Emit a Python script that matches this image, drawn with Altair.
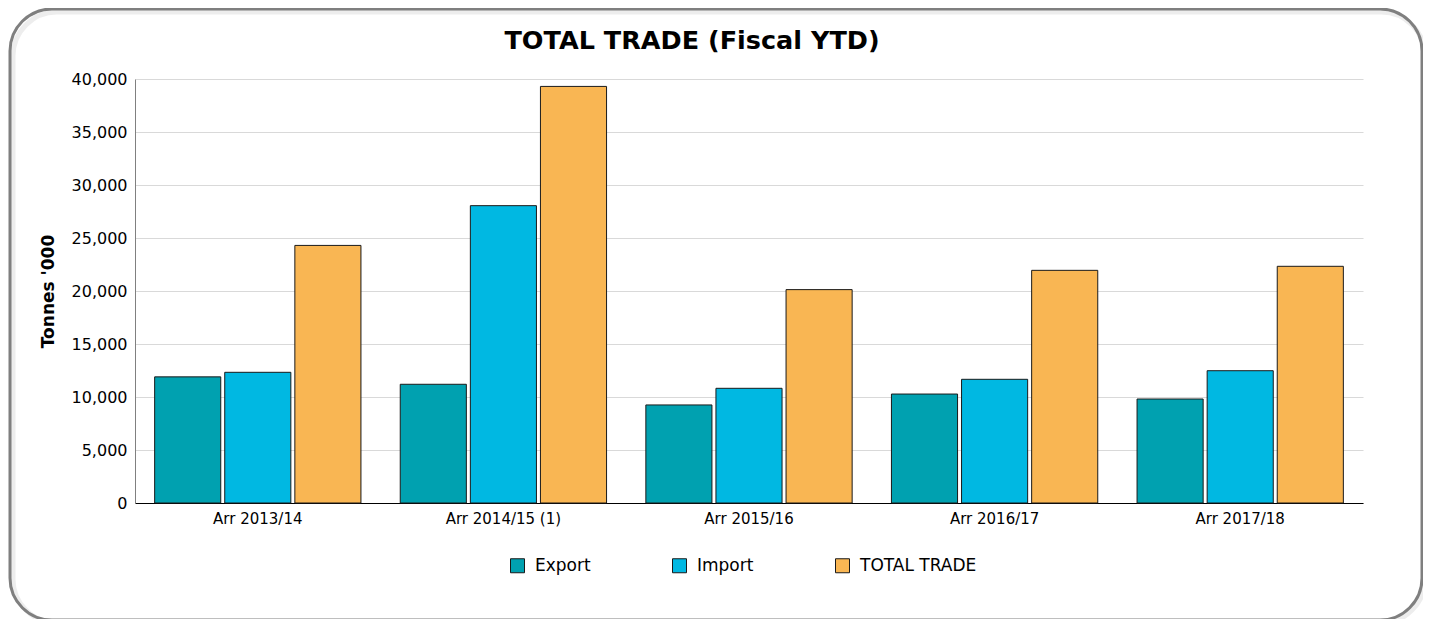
import altair as alt
import pandas as pd

years = ["Arr 2013/14", "Arr 2014/15 (1)", "Arr 2015/16", "Arr 2016/17", "Arr 2017/18"]
series = ["Export", "Import", "TOTAL TRADE"]
export_vals = [11900, 11200, 9250, 10280, 9810]
import_vals = [12330, 28050, 10820, 11670, 12480]
total_vals = [24300, 39300, 20130, 21950, 22330]
colors = ["#00A1B0", "#00B8E2", "#F9B653"]

rows = []
for i, y in enumerate(years):
    for s, vals in zip(series, [export_vals, import_vals, total_vals]):
        rows.append({"year": y, "series": s, "value": vals[i]})
df = pd.DataFrame(rows)

FONT = "DejaVu Sans"
W, H = 1228, 424

border = alt.Chart(pd.DataFrame({"a": [0]})).mark_rect(
    fill=None, stroke="#7f7f7f", strokeWidth=3, cornerRadius=42
).encode(
    x=alt.value(-125), x2=alt.value(1287), y=alt.value(-70), y2=alt.value(541)
)
shadow = alt.Chart(pd.DataFrame({"a": [0]})).mark_rect(
    fill=None, stroke="#000000", strokeOpacity=0.07, strokeWidth=5, cornerRadius=44
).encode(
    x=alt.value(-122), x2=alt.value(1290), y=alt.value(-67), y2=alt.value(544)
)

bars = alt.Chart(df).mark_bar(stroke="#1a1a1a", strokeWidth=1).encode(
    x=alt.X("year:N", sort=years, title=None,
            scale=alt.Scale(paddingInner=0.16, paddingOuter=0.08),
            axis=alt.Axis(labelAngle=0, ticks=False, domainColor="#000000", labelPadding=8,
                          labelFontSize=15, labelFont=FONT, labelColor="#000000", grid=False)),
    xOffset=alt.XOffset("series:N", sort=series,
                        scale=alt.Scale(paddingInner=0.057, paddingOuter=0)),
    y=alt.Y("value:Q", title="Tonnes '000",
            scale=alt.Scale(domain=[0, 40000], nice=False),
            axis=alt.Axis(values=list(range(0, 40001, 5000)), format=",.0f", ticks=False,
                          domainColor="#808080", gridColor="#d9d9d9", labelPadding=8,
                          labelFontSize=16, labelFont=FONT, labelColor="#000000",
                          titleFontSize=17, titleFont=FONT, titleFontWeight="bold",
                          titleColor="#000000", titlePadding=14)),
    color=alt.Color("series:N", sort=series, scale=alt.Scale(domain=series, range=colors),
                    legend=alt.Legend(title=None, orient="none", legendX=374, legendY=478,
                                      direction="horizontal", columns=3, columnPadding=79,
                                      symbolType="square", symbolSize=196,
                                      symbolStrokeColor="#1a1a1a", symbolStrokeWidth=1,
                                      labelFontSize=17, labelFont=FONT, labelColor="#000000",
                                      labelOffset=9)),
)

chart = alt.layer(shadow, border, bars).properties(
    width=W, height=H,
    title=alt.Title("TOTAL TRADE (Fiscal YTD)", fontSize=25.5, font=FONT, fontWeight="bold",
                    color="#000000", anchor="middle", frame="group", dx=-57, offset=0, dy=47),
    padding={"left": 127, "top": 71, "right": 60, "bottom": 116},
    autosize=alt.AutoSizeParams(type="none"),
).configure(background="white").configure_view(strokeWidth=0, stroke=None)

chart.save("out.html", embed_options={"renderer": "svg", "actions": False})
